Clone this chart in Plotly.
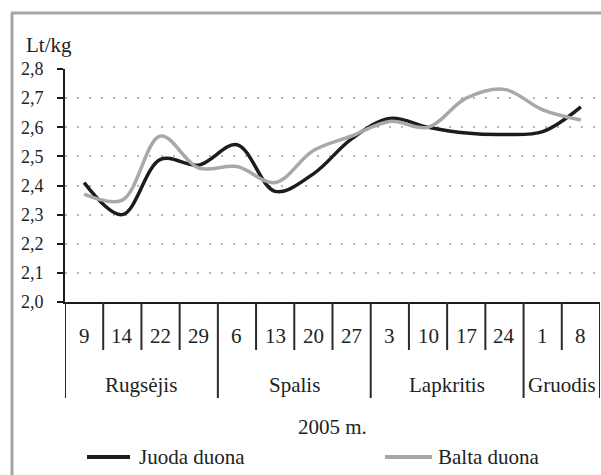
import plotly.graph_objects as go

# ---- data ----
days = ["9", "14", "22", "29", "6", "13", "20", "27", "3", "10", "17", "24", "1", "8"]
months = ["Rugsėjis", "Spalis", "Lapkritis", "Gruodis"]
month_sizes = [4, 4, 4, 2]
juoda = [2.41, 2.30, 2.49, 2.47, 2.54, 2.38, 2.44, 2.56, 2.63, 2.60, 2.58, 2.575, 2.585, 2.67]
balta = [2.37, 2.35, 2.57, 2.46, 2.465, 2.41, 2.52, 2.57, 2.62, 2.60, 2.70, 2.73, 2.66, 2.625]
series_names = ["Juoda duona", "Balta duona"]
y_unit = "Lt/kg"
year_label = "2005 m."

W, H = 601, 475
L, R, T, B = 65, 600, 69, 302  # plot area in pixels
pw, ph = R - L, B - T


def px(x):
    return (x - L) / pw


def py(y):
    return (B - y) / ph


FONT = "Liberation Serif, Times New Roman, serif"
TXT = "#222222"
xs = list(range(len(days)))

fig = go.Figure()
fig.add_trace(go.Scatter(x=xs, y=juoda, mode="lines", name=series_names[0],
                         line=dict(color="#1c1c1c", width=3.5, shape="spline", smoothing=1),
                         showlegend=False, hoverinfo="skip"))
fig.add_trace(go.Scatter(x=xs, y=balta, mode="lines", name=series_names[1],
                         line=dict(color="#a8a8a8", width=3.5, shape="spline", smoothing=1),
                         showlegend=False, hoverinfo="skip"))

shapes = []
annotations = []

# day labels and separators
bounds_long = [-0.5]
acc = -0.5
for s in month_sizes:
    acc += s
    bounds_long.append(acc)
for i in range(len(days) + 1):
    b = i - 0.5
    long = any(abs(b - bl) < 1e-9 for bl in bounds_long)
    shapes.append(dict(type="line", xref="x", yref="paper", x0=b, x1=b,
                       y0=0, y1=py(398 if long else 350),
                       line=dict(color="#2a2a2a", width=2)))
for i, d in enumerate(days):
    annotations.append(dict(x=i, y=py(336), xref="x", yref="paper", text=d,
                            showarrow=False, font=dict(family=FONT, size=21, color=TXT),
                            xanchor="center", yanchor="middle"))
start = 0
for m, s in zip(months, month_sizes):
    annotations.append(dict(x=start + (s - 1) / 2, y=py(385), xref="x", yref="paper", text=m,
                            showarrow=False, font=dict(family=FONT, size=21, color=TXT),
                            xanchor="center", yanchor="middle"))
    start += s

annotations.append(dict(x=0.5, y=py(427), xref="paper", yref="paper", text=year_label,
                        showarrow=False, font=dict(family=FONT, size=21, color=TXT),
                        xanchor="center", yanchor="middle"))
annotations.append(dict(x=px(24), y=py(45), xref="paper", yref="paper", text=y_unit,
                        showarrow=False, font=dict(family=FONT, size=21, color=TXT),
                        xanchor="left", yanchor="middle"))

# legend (manual)
leg = [(87, 130, 137, "#1c1c1c"), (385, 432, 436, "#a8a8a8")]
for (x0, x1, xt, c), name in zip(leg, series_names):
    shapes.append(dict(type="line", xref="paper", yref="paper", x0=px(x0), x1=px(x1),
                       y0=py(457), y1=py(457), line=dict(color=c, width=4)))
    annotations.append(dict(x=px(xt), y=py(457), xref="paper", yref="paper", text=name,
                            showarrow=False, font=dict(family=FONT, size=21, color=TXT),
                            xanchor="left", yanchor="middle"))

# frame (left and top edges, extending beyond image)
shapes.append(dict(type="line", xref="paper", yref="paper", x0=px(12), x1=px(12),
                   y0=py(13), y1=py(490), line=dict(color="#a6a6a6", width=3)))
shapes.append(dict(type="line", xref="paper", yref="paper", x0=px(11), x1=px(620),
                   y0=py(13), y1=py(13), line=dict(color="#a6a6a6", width=3)))

fig.update_layout(
    width=W, height=H,
    margin=dict(l=L, r=W - R, t=T, b=H - B, pad=0),
    paper_bgcolor="white", plot_bgcolor="white",
    separators=",.",
    shapes=shapes, annotations=annotations,
    showlegend=False,
    xaxis=dict(range=[-0.5, len(days) - 0.5], showgrid=False, zeroline=False,
               showticklabels=False, ticks="", showline=True, linecolor="#1c1c1c", linewidth=2,
               fixedrange=True),
    yaxis=dict(range=[2.0, 2.8], dtick=0.1, tick0=2.0, tickformat=".1f",
               showgrid=True, gridcolor="#b5b5b5", gridwidth=2, griddash="2px,10px",
               zeroline=False, showline=True, linecolor="#1c1c1c", linewidth=2,
               ticks="outside", ticklen=6, tickwidth=2, tickcolor="#1c1c1c",
               ticklabelstandoff=10,
               tickfont=dict(family=FONT, size=18, color=TXT), fixedrange=True),
)

fig.write_html("out.html", config={"displayModeBar": False},
               post_script="document.body.style.margin='0';document.body.style.overflow='hidden';")
